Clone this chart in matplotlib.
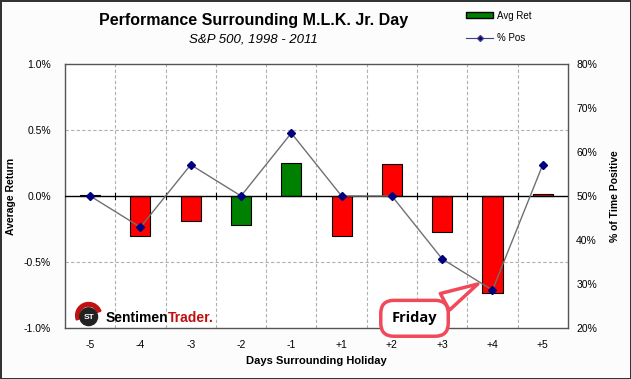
import matplotlib
matplotlib.use("Agg")
import matplotlib.pyplot as plt
from matplotlib.lines import Line2D
from matplotlib.patches import Patch, Circle, Wedge
import numpy as np

plt.rcParams['font.family'] = ['Liberation Sans', 'DejaVu Sans']

days = ["-5", "-4", "-3", "-2", "-1", "+1", "+2", "+3", "+4", "+5"]
avg_ret = [0.01, -0.30, -0.19, -0.22, 0.25, -0.30, 0.24, -0.275, -0.737, 0.013]
pct_pos = [50.0, 42.9, 57.1, 50.0, 64.3, 50.0, 50.0, 35.7, 28.6, 57.1]
bar_colors = ["#008000", "#FF0000", "#FF0000", "#008000", "#008000",
              "#FF0000", "#FF0000", "#FF0000", "#FF0000", "#FF0000"]
left_ticks = [1.0, 0.5, 0.0, -0.5, -1.0]
right_ticks = [80, 70, 60, 50, 40, 30, 20]

fig = plt.figure(figsize=(6.31, 3.79), dpi=100)
fig.patch.set_facecolor("#fcfcfc")
fig.patch.set_edgecolor("#333333")
fig.patch.set_linewidth(2)
ax = fig.add_axes([0.103, 0.1346, 0.797, 0.6966])
x = np.arange(len(days))
ax.bar(x, avg_ret, width=0.4, color=bar_colors, edgecolor="black", linewidth=0.8, zorder=3)
ax.set_ylim(-1.0, 1.0)
ax.set_xlim(-0.5, len(days) - 0.5)
ax.set_yticks(left_ticks)
ax.set_yticklabels([f"{v:.1f}%" for v in left_ticks])
ax.set_xticks(x)
ax.set_xticklabels(days)
ax.tick_params(axis='both', length=0, labelsize=7.5)
ax.tick_params(axis='x', pad=9)
ax.tick_params(axis='y', pad=10)
for b in np.arange(0.5, len(days) - 0.5, 1.0):
    ax.axvline(b, color="#b0b0b0", ls=(0, (3, 2)), lw=0.8, zorder=1)
    ax.plot([b, b], [-0.02, 0.02], color="black", lw=0.8, zorder=2)
for v in [0.5, -0.5]:
    ax.axhline(v, color="#b0b0b0", ls=(0, (3, 2)), lw=0.8, zorder=1)
ax.axhline(0, color="black", lw=1.0, zorder=4)
for s in ax.spines.values():
    s.set_color("#555555")
    s.set_linewidth(1.0)
ax.set_ylabel("Average Return", fontsize=7.5, fontweight="bold", labelpad=6)
ax.set_xlabel("Days Surrounding Holiday", fontsize=8, fontweight="bold", labelpad=4)

ax2 = ax.twinx()
ax2.plot(x, pct_pos, color="#707070", lw=1.0, marker="D", markersize=4.5,
         markerfacecolor="#000080", markeredgecolor="#000080", zorder=5)
ax2.set_ylim(20, 80)
ax2.set_yticks(right_ticks)
ax2.set_yticklabels([f"{v}%" for v in right_ticks])
ax2.tick_params(axis='y', length=0, labelsize=7.5, pad=6)
ax2.set_ylabel("% of Time Positive", fontsize=7.5, fontweight="bold", labelpad=9)
for s in ax2.spines.values():
    s.set_visible(False)

fig.text(0.402, 0.945, "Performance Surrounding M.L.K. Jr. Day", ha="center", va="center",
         fontsize=11.5, fontweight="bold")
fig.text(0.402, 0.897, "S&P 500, 1998 - 2011", ha="center", va="center",
         fontsize=9.5, style="italic")

handles = [Patch(facecolor="#008000", edgecolor="black", label="Avg Ret"),
           Line2D([0], [0], color="#404080", marker="D", markersize=3,
                  markerfacecolor="#000080", lw=0.8, label="% Pos")]
fig.legend(handles=handles, loc="upper left", bbox_to_anchor=(0.725, 0.995),
           frameon=False, fontsize=7, handlelength=2.8, handleheight=0.6,
           labelspacing=1.3, handletextpad=0.4)

# callout
ax2.annotate("Friday", xy=(7.71, 30.0), xytext=(6.45, 22.2),
             ha="center", va="center", fontsize=10.5, fontweight="bold",
             family=["Open Sans", "DejaVu Sans"], annotation_clip=False,
             bbox=dict(boxstyle="round,pad=0.75,rounding_size=0.9", fc="white",
                       ec="#f04a5a", lw=2.5),
             arrowprops=dict(arrowstyle="wedge,tail_width=1.3,shrink_factor=0.5",
                             fc="white", ec="#f04a5a", lw=2.5, shrinkA=0, shrinkB=0),
             zorder=10)

# logo
icon_ax = fig.add_axes([0.118, 0.13, 0.045, 0.075])
icon_ax.set_xlim(-1.2, 1.2)
icon_ax.set_ylim(-1.2, 1.2)
icon_ax.set_aspect("equal")
icon_ax.axis("off")
icon_ax.add_patch(Wedge((0, 0), 1.1, 20, 200, width=0.3, color="#c01010"))
icon_ax.add_patch(Circle((0, -0.1), 0.75, color="#222222"))
icon_ax.text(0, -0.15, "ST", ha="center", va="center", color="white",
             fontsize=6, fontweight="bold")
t1 = fig.text(0.167, 0.15, "Sentimen", fontsize=10, fontweight="bold", color="black")
fig.texts.append(matplotlib.text.Annotation(
    "Trader.", xy=(1, 0), xycoords=t1, va="bottom", ha="left",
    fontsize=10, fontweight="bold", color="#c01010"))
fig.texts[-1].set_figure(fig)

fig.savefig("out.png", dpi=100, facecolor=fig.get_facecolor(),
            edgecolor=fig.get_edgecolor())
